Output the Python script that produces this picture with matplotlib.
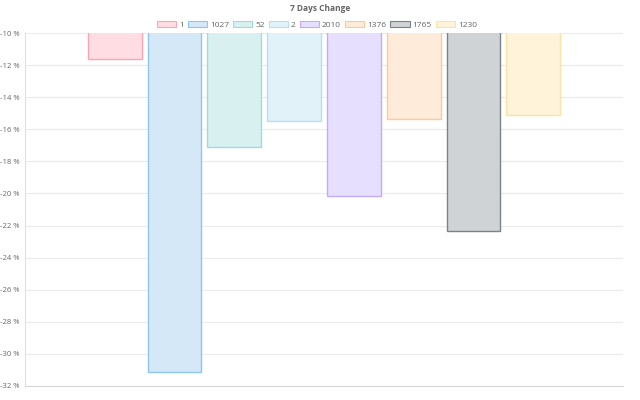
import matplotlib
matplotlib.use('Agg')
import matplotlib.pyplot as plt
from matplotlib.patches import Patch
from matplotlib.ticker import FuncFormatter, MultipleLocator

plt.rcParams['font.family'] = ['Open Sans', 'DejaVu Sans']
plt.rcParams['axes.unicode_minus'] = False

# Data
labels = ['1', '1027', '52', '2', '2010', '1376', '1765', '1230']
changes = [-11.62, -31.12, -17.10, -15.48, -20.16, -15.36, -22.34, -15.11]
fills = ['#ffdde3', '#d4e8f8', '#d8f1f0', '#e1f2f9', '#e7dffe', '#ffebd9', '#d0d3d6', '#fff3da']
edges = ['#ffa3b5', '#8ec7ee', '#9fdcdc', '#b5e0f0', '#c4aaff', '#ffc896', '#7c8289', '#ffe3a2']

fig = plt.figure(figsize=(6.4, 4.0), dpi=100)
ax = fig.add_axes([25 / 640, 14 / 400, 598 / 640, 353 / 400])

# chart.js-like grouping: category 0.8, bar 0.9
n = len(labels)
slot = 0.8 / n
for i, (v, fc, ec) in enumerate(zip(changes, fills, edges)):
    x = -0.4 + slot * (i + 0.5)
    ax.bar(x, v, width=slot * 0.9, color=fc, edgecolor=ec, linewidth=1, zorder=2)

ax.set_xlim(-0.5, 0.5)
ax.set_ylim(-32, -10)
ax.yaxis.set_major_locator(MultipleLocator(2))
ax.yaxis.set_major_formatter(FuncFormatter(lambda v, p: '%d %%' % round(v)))
ax.set_xticks([])
ax.tick_params(axis='y', length=0, pad=4, labelsize=5.5, labelcolor='#666666')
ax.grid(axis='y', color='#ebebeb', linewidth=0.8, zorder=0)
for s in ['top', 'right']:
    ax.spines[s].set_visible(False)
ax.spines['left'].set_color('#e0e0e0')
ax.spines['bottom'].set_color('#d8d8d8')
ax.spines['left'].set_linewidth(0.8)
ax.spines['bottom'].set_linewidth(0.8)

fig.text(0.5, 1 - 8.5 / 400, '7 Days Change', ha='center', va='center',
         fontsize=6, fontweight='bold', color='#666666')

handles = [Patch(facecolor=fc, edgecolor=ec, linewidth=0.8) for fc, ec in zip(fills, edges)]
fig.legend(handles, labels, loc='center', bbox_to_anchor=(0.495, 1 - 25 / 400), ncol=n,
           frameon=False, fontsize=6, labelcolor='#666666', handlelength=2.3,
           handleheight=0.8, handletextpad=0.35, columnspacing=0.5)

fig.savefig('out.png', dpi=100)
